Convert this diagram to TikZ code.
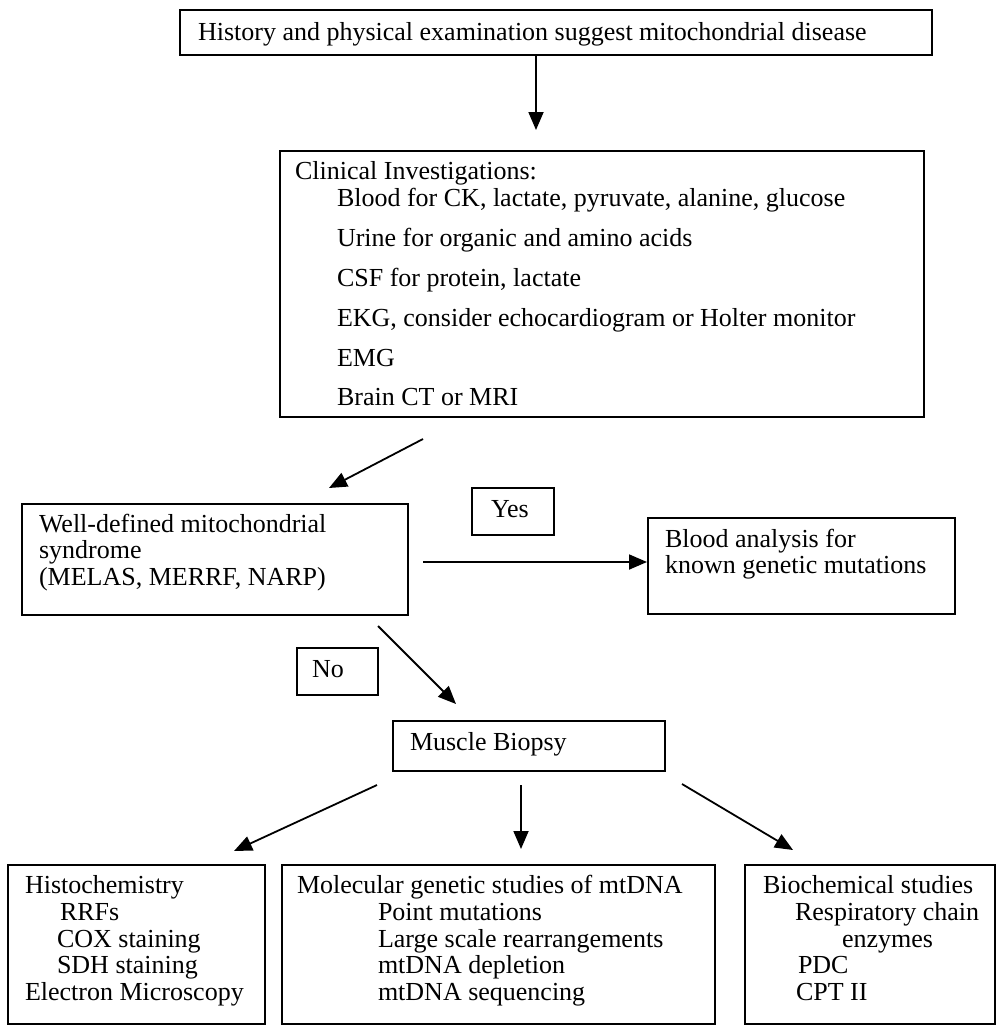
\documentclass[tikz,border=0pt]{standalone}
\usepackage{fontspec}
\setmainfont{Liberation Serif}
\usetikzlibrary{arrows.meta}
\begin{document}
\begin{tikzpicture}[x=1pt,y=-1pt,
  box/.style={draw=black,line width=1.8pt,rectangle,inner sep=0pt,outer sep=0pt,anchor=north west},
  txt/.style={inner sep=0pt,outer sep=0pt,anchor=base west,font=\fontsize{26}{26}\selectfont},
  arr/.style={line width=1.8pt,-{Triangle[length=18pt,width=15pt]}}]
\useasboundingbox (0,0) rectangle (997,1026);
% boxes
\node[box,minimum width=752pt,minimum height=45pt] (top) at (180,10) {};
\node[box,minimum width=644pt,minimum height=266pt] (clin) at (280,151) {};
\node[box,minimum width=386pt,minimum height=111pt] (well) at (22,504) {};
\node[box,minimum width=82pt,minimum height=47pt] (yes) at (472,488) {};
\node[box,minimum width=307pt,minimum height=96pt] (blood) at (648,518) {};
\node[box,minimum width=81pt,minimum height=47pt] (no) at (297,648) {};
\node[box,minimum width=272pt,minimum height=50pt] (muscle) at (393,721) {};
\node[box,minimum width=257pt,minimum height=159pt] (histo) at (8,865) {};
\node[box,minimum width=433pt,minimum height=159pt] (mol) at (282,865) {};
\node[box,minimum width=250pt,minimum height=159pt] (bio) at (745,865) {};
% texts
\node[txt] (t0) at (198,40) {History and physical examination suggest mitochondrial disease};
\node[txt] (c0) at (295,179) {Clinical Investigations:};
\node[txt] (c1) at (337,206) {Blood for CK, lactate, pyruvate, alanine, glucose};
\node[txt] (c2) at (337,246) {Urine for organic and amino acids};
\node[txt] (c3) at (337,286) {CSF for protein, lactate};
\node[txt] (c4) at (337,326) {EKG, consider echocardiogram or Holter monitor};
\node[txt] (c5) at (337,366) {EMG};
\node[txt] (c6) at (337,405) {Brain CT or MRI};
\node[txt] (w1) at (39,532) {Well-defined mitochondrial};
\node[txt] (w2) at (39,558) {syndrome};
\node[txt] (w3) at (39,585) {(MELAS, MERRF, NARP)};
\node[txt] (y1) at (491,517) {Yes};
\node[txt] (b1) at (665,547) {Blood analysis for};
\node[txt] (b2) at (665,573) {known genetic mutations};
\node[txt] (n1) at (312,677) {No};
\node[txt] (m1) at (410,750) {Muscle Biopsy};
\node[txt] (h1) at (25,893) {Histochemistry};
\node[txt] (h2) at (60,920) {RRFs};
\node[txt] (h3) at (57,947) {COX staining};
\node[txt] (h4) at (57,973) {SDH staining};
\node[txt] (h5) at (25,1000) {Electron Microscopy};
\node[txt] (g1) at (297,893) {Molecular genetic studies of mtDNA};
\node[txt] (g2) at (378,920) {Point mutations};
\node[txt] (g3) at (378,947) {Large scale rearrangements};
\node[txt] (g4) at (378,973) {mtDNA depletion};
\node[txt] (g5) at (378,1000) {mtDNA sequencing};
\node[txt] (k1) at (763,893) {Biochemical studies};
\node[txt] (k2) at (795,920) {Respiratory chain};
\node[txt] (k3) at (842,947) {enzymes};
\node[txt] (k4) at (798,973) {PDC};
\node[txt] (k5) at (796,1000) {CPT II};
% arrow end points
\coordinate (a1s) at (536,55);  \coordinate (a1e) at (536,130);
\coordinate (a2s) at (423,439); \coordinate (a2e) at (329,488);
\coordinate (a3s) at (423,562); \coordinate (a3e) at (647,562);
\coordinate (a4s) at (378,626); \coordinate (a4e) at (456,704);
\coordinate (a5s) at (377,785); \coordinate (a5e) at (234,851);
\coordinate (a6s) at (521,785); \coordinate (a6e) at (521,849);
\coordinate (a7s) at (682,784); \coordinate (a7e) at (793,850);
\draw[arr] (a1s) -- (a1e);
\draw[arr] (a2s) -- (a2e);
\draw[arr] (a3s) -- (a3e);
\draw[arr] (a4s) -- (a4e);
\draw[arr] (a5s) -- (a5e);
\draw[arr] (a6s) -- (a6e);
\draw[arr] (a7s) -- (a7e);
\end{tikzpicture}
\end{document}
